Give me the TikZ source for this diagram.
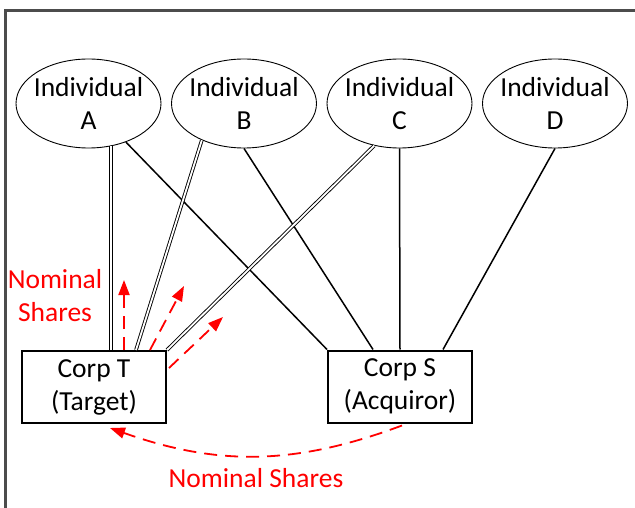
\documentclass[tikz,border=0pt]{standalone}
\usepackage{fontspec}
\setmainfont{Carlito}
\usetikzlibrary{shapes.geometric, arrows.meta, calc}

\begin{document}
\begin{tikzpicture}[x=1pt, y=-1pt,
    font=\fontsize{27.5}{33}\selectfont,
    person/.style={draw, ellipse, line width=0.9pt, minimum width=145pt, minimum height=89pt, inner xsep=-14pt, inner ysep=0pt, align=center},
    corp/.style={draw, line width=2pt, minimum width=144pt, minimum height=72pt, inner sep=0pt, align=center},
    own/.style={line width=1.5pt},
    dbl/.style={double, double distance=1.8pt, line width=0.9pt},
    nominal/.style={red, dash pattern=on 13pt off 8pt, line width=1.8pt, -{Triangle[length=15pt,width=11pt]}}]
    \useasboundingbox (0,0) rectangle (635,508);
    \draw[line width=2.5pt, black!70] (5.5,508) -- (5.5,10.5) -- (635,10.5);

    \node[person] (A) at (88.5,103.5) {Individual\\A};
    \node[person] (B) at (244,103.5) {Individual\\B};
    \node[person] (C) at (399.5,103.5) {Individual\\C};
    \node[person] (D) at (555,103.5) {Individual\\D};

    \node[corp] (T) at (94,387) {Corp T\\(Target)};
    \node[corp] (S) at (400,386.5) {Corp S\\(Acquiror)};

    % holdings
    \draw[dbl] (A.-62) -- (A.-62 |- T.north);
    \draw[own] (A) -- (S.north west);
    \draw[dbl] (B.-139) -- ($(T.north)+(42,0)$);
    \draw[own] (B.south) -- ($(S.north)+(-27,0)$);
    \draw[dbl] (C.-121) -- (T.north east);
    \draw[own] (C.south) -- (S.north);
    \draw[own] (D.south) -- ($(S.north)+(43,0)$);

    % nominal shares
    \node[red, align=center] (nomT) at (55,296) {Nominal\\Shares};
    \coordinate (up1) at (124,280);
    \coordinate (up2) at (184,286);
    \coordinate (up3) at (223,317);
    \draw[nominal] ($(T.north)+(30,0)$) -- (up1);
    \draw[nominal] ($(T.north)+(56,0)$) -- (up2);
    \draw[nominal] ($(T.north east)+(2,18)$) -- (up3);

    \draw[nominal] ($(S.south)+(2,2)$) to[bend left=20] ($(T.south)+(16,4)$);
    \node[red] (nomS) at (256,478) {Nominal Shares};
\end{tikzpicture}
\end{document}
